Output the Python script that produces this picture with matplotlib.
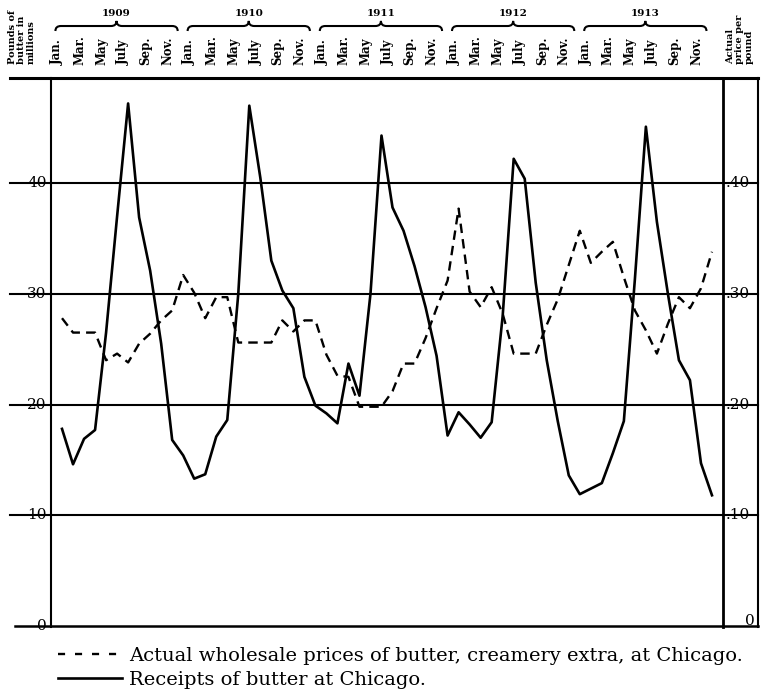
import numpy as np
import matplotlib
matplotlib.use('Agg')
import matplotlib.pyplot as plt
import matplotlib.transforms as mtransforms
from matplotlib.path import Path
from matplotlib.patches import PathPatch
from matplotlib.lines import Line2D

# monthly values, Jan. 1909 .. Dec. 1913
years = [1909, 1910, 1911, 1912, 1913]
month_labels = ['Jan.', 'Mar.', 'May', 'July', 'Sep.', 'Nov.']
receipts = [17.8, 14.6, 16.9, 17.7, 26.5, 37.0, 47.2, 36.9, 32.1, 25.5, 16.8, 15.4,
            13.3, 13.7, 17.1, 18.6, 30.0, 47.0, 40.5, 33.0, 30.3, 28.7, 22.5, 19.9,
            19.2, 18.3, 23.7, 20.8, 30.0, 44.3, 37.8, 35.7, 32.5, 28.8, 24.4, 17.2,
            19.3, 18.2, 17.0, 18.4, 28.0, 42.2, 40.4, 31.0, 24.0, 18.5, 13.6, 11.9,
            12.4, 12.9, 15.6, 18.5, 31.3, 45.1, 36.5, 30.0, 24.0, 22.2, 14.7, 11.8]
prices = [27.8, 26.5, 26.5, 26.5, 24.0, 24.6, 23.8, 25.5, 26.4, 27.6, 28.5, 31.7,
          30.1, 27.8, 29.7, 29.7, 25.6, 25.6, 25.6, 25.6, 27.6, 26.6, 27.6, 27.6,
          24.5, 22.6, 22.5, 19.8, 19.8, 19.8, 21.2, 23.7, 23.7, 26.0, 28.7, 31.2,
          37.7, 30.2, 28.8, 30.6, 28.2, 24.6, 24.6, 24.6, 27.2, 29.5, 32.6, 35.7,
          32.8, 33.8, 34.7, 31.5, 28.5, 26.7, 24.6, 27.3, 29.7, 28.7, 30.5, 33.8]
grid_values = [0, 10, 20, 30, 40]

W, H = 761, 693
fig = plt.figure(figsize=(W / 100, H / 100), dpi=100)
ax = fig.add_axes([51 / W, 66 / H, 672 / W, 549 / H])

months = np.arange(len(receipts))
ax.plot(months, receipts, color='black', lw=1.9)
ax.plot(months, prices, color='black', lw=1.7, dashes=(4, 2.6))

ax.set_xlim(-1, 60)
ax.set_ylim(-0.1, 49.5)
ax.set_xticks([])
ax.set_yticks([])
for s in ['top', 'bottom']:
    ax.spines[s].set_visible(False)
ax.spines['left'].set_linewidth(1.5)
ax.spines['right'].set_linewidth(2.0)

# horizontal rules run past both axes
for v in grid_values:
    ax.axhline(v, xmin=-0.054 if v == 0 else -0.061, xmax=1.052,
               color='black', lw=1.8 if v == 0 else 1.5, clip_on=False)
ax.plot([-0.061, 1.052], [1, 1], transform=ax.transAxes, color='black',
        lw=2.2, clip_on=False)
ax.plot([1.052, 1.052], [0, 1], transform=ax.transAxes, color='black',
        lw=1.5, clip_on=False)

ty = mtransforms.blended_transform_factory(ax.transAxes, ax.transData)
tx = mtransforms.blended_transform_factory(ax.transData, ax.transAxes)
num_font = dict(family='DejaVu Serif', fontsize=11)
for v in grid_values:
    if v == 0:
        ax.text(-0.013, v, '0', transform=ty, ha='center', va='center', **num_font)
        ax.text(1.040, v + 0.4, '0', transform=ty, ha='center', va='center', **num_font)
    else:
        ax.text(-0.021, v, str(v), transform=ty, ha='center', va='center', **num_font)
        ax.text(1.004, v, '.%d' % v, transform=ty, ha='left', va='center', **num_font)

# month labels, year labels and braces along the top
for k, yr in enumerate(years):
    for j, m in enumerate(month_labels):
        ax.text(12 * k + 2 * j - 0.4, 1.0237, m, transform=tx, rotation=90,
                ha='center', va='bottom', fontsize=8.5, fontweight='bold',
                family='DejaVu Serif')
    x0, x1 = 12 * k - 0.6, 12 * k + 10.5
    xc = (x0 + x1) / 2
    yb, ym, yt = 1.0856, 1.0947, 1.104
    verts = [(x0, yb), (x0, ym), (x0 + 0.5, ym), (xc - 0.5, ym), (xc, ym), (xc, yt),
             (xc, ym), (xc + 0.5, ym), (x1 - 0.5, ym), (x1, ym), (x1, yb)]
    codes = [Path.MOVETO, Path.CURVE3, Path.CURVE3, Path.LINETO, Path.CURVE3, Path.CURVE3,
             Path.CURVE3, Path.CURVE3, Path.LINETO, Path.CURVE3, Path.CURVE3]
    ax.add_patch(PathPatch(Path(verts, codes), transform=tx, fill=False,
                           lw=1.5, color='black', clip_on=False))
    ax.text(xc, 1.1166, str(yr), transform=tx, ha='center', va='center',
            fontsize=7.5, fontweight='bold', family='DejaVu Serif')

fig.text(22 / W, 1 - 64 / H, 'Pounds of\nbutter in\nmillions', rotation=90,
         ha='center', va='bottom', fontsize=7, fontweight='bold',
         family='DejaVu Serif', multialignment='left', linespacing=1.0)
fig.text(740 / W, 1 - 64 / H, 'Actual\nprice per\npound', rotation=90,
         ha='center', va='bottom', fontsize=7, fontweight='bold',
         family='DejaVu Serif', multialignment='left', linespacing=1.0)

legend_handles = [Line2D([], [], color='black', lw=1.7, dashes=(3, 4.2)),
                  Line2D([], [], color='black', lw=1.9)]
fig.legend(handles=legend_handles,
           labels=['Actual wholesale prices of butter, creamery extra, at Chicago.',
                   'Receipts of butter at Chicago.'],
           loc='upper left', bbox_to_anchor=(58 / W, 1 - 647 / H), frameon=False,
           handlelength=3.3, handletextpad=0.35, labelspacing=0.32,
           borderpad=0, borderaxespad=0,
           prop=dict(family='DejaVu Serif', size=14))

fig.savefig('out.png', dpi=100)
